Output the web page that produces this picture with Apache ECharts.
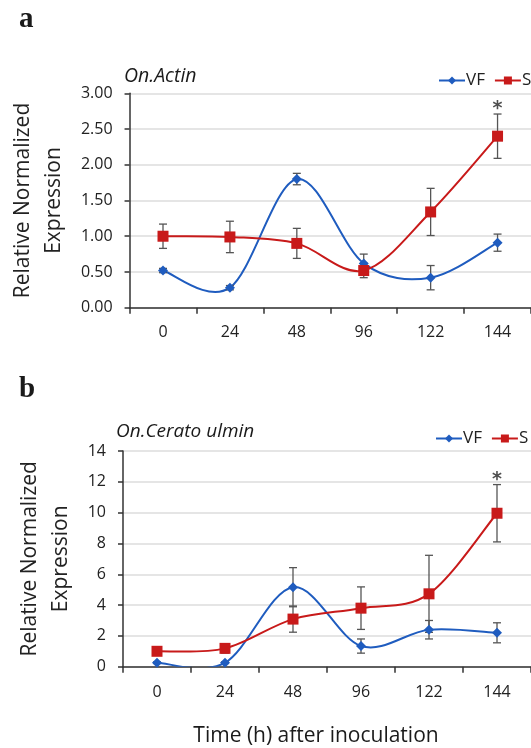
<!DOCTYPE html>
<html>
<head>
<meta charset="utf-8">
<script src="https://cdn.jsdelivr.net/npm/echarts@6/dist/echarts.min.js"></script>
<style>
  html, body { margin: 0; padding: 0; background: #fff; }
  #chart { width: 531px; height: 748px; }
</style>
</head>
<body>
<div id="chart"></div>
<script>
// time points (h)
const hours = ["0", "24", "48", "96", "122", "144"];

// panel a - On.Actin
const actinVF = [0.52, 0.28, 1.80, 0.62, 0.42, 0.91];
const actinVFErr = [0.03, 0.03, 0.08, 0.13, 0.17, 0.12];
const actinS = [1.00, 0.99, 0.90, 0.52, 1.34, 2.40];
const actinSErr = [0.17, 0.22, 0.21, 0.10, 0.33, 0.31];

// panel b - On.Cerato ulmin
const ceratoVF = [0.26, 0.26, 5.16, 1.34, 2.40, 2.20];
const ceratoVFErr = [0.05, 0.05, 1.27, 0.46, 0.60, 0.65];
const ceratoS = [1.00, 1.19, 3.09, 3.80, 4.73, 9.96];
const ceratoSErr = [0.1, 0.3, 0.85, 1.38, 2.5, 1.86];

// significance mark (index of time point)
const starIdx = 5;

const blue = "#1f5cbf";
const red = "#c81a1a";
const font = "Open Sans";

var myChart = echarts.init(document.getElementById("chart"));

// [index, low, high] for error bars
function errData(vals, errs) {
    return vals.map((v, i) => [i, v - errs[i], v + errs[i]]);
}

function renderErr(params, api) {
    var x = api.value(0);
    var lo = api.coord([x, api.value(1)]);
    var hi = api.coord([x, api.value(2)]);
    var w = 4;
    var st = { stroke: "#555", lineWidth: 1.3 };
    return {
        type: "group",
        children: [
            { type: "line", shape: { x1: hi[0], y1: hi[1], x2: lo[0], y2: lo[1] }, style: st },
            { type: "line", shape: { x1: hi[0] - w, y1: hi[1], x2: hi[0] + w, y2: hi[1] }, style: st },
            { type: "line", shape: { x1: lo[0] - w, y1: lo[1], x2: lo[0] + w, y2: lo[1] }, style: st }
        ]
    };
}

// excel-like smoothed line: one bezier segment per point (catmull-rom style)
function curveRender(vals, color) {
    var n = vals.length;
    return function (params, api) {
        var i = params.dataIndex;
        if (i >= n - 1) return null;
        var pt = function (j) {
            j = Math.max(0, Math.min(n - 1, j));
            return api.coord([j, vals[j]]);
        };
        var p0 = pt(i - 1), p1 = pt(i), p2 = pt(i + 1), p3 = pt(i + 2);
        return {
            type: "bezierCurve",
            shape: {
                x1: p1[0], y1: p1[1], x2: p2[0], y2: p2[1],
                cpx1: p1[0] + (p2[0] - p0[0]) / 6, cpy1: p1[1] + (p2[1] - p0[1]) / 6,
                cpx2: p2[0] - (p3[0] - p1[0]) / 6, cpy2: p2[1] - (p3[1] - p1[1]) / 6
            },
            style: { stroke: color, lineWidth: 2, fill: null }
        };
    };
}

function yAxis(idx, max, interval, digits, gap) {
    return {
        type: "value",
        gridIndex: idx,
        min: 0,
        max: max,
        interval: interval,
        name: "Relative Normalized\nExpression",
        nameLocation: "middle",
        nameRotate: 90,
        nameGap: gap,
        nameTextStyle: { fontFamily: font, fontSize: 21, color: "#222", lineHeight: 31 },
        axisLine: { show: true, lineStyle: { color: "#333", width: 1.5 } },
        axisTick: { show: true, inside: false, length: 5, lineStyle: { color: "#333", width: 1.5 } },
        axisLabel: {
            fontFamily: font, fontSize: 16, color: "#222", margin: 17,
            formatter: v => v.toFixed(digits)
        },
        splitLine: { lineStyle: { color: "#dcdcdc", width: 1.5 } }
    };
}

function xAxis(idx, margin) {
    return {
        type: "category",
        gridIndex: idx,
        data: hours,
        boundaryGap: true,
        axisLine: { lineStyle: { color: "#333", width: 1.5 } },
        axisTick: { show: true, length: 6, lineStyle: { color: "#333", width: 1.5 } },
        axisLabel: { fontFamily: font, fontSize: 16, color: "#222", margin: margin }
    };
}

function markerSeries(name, idx, data, color, symbol, size) {
    return {
        name: name,
        type: "line",
        xAxisIndex: idx,
        yAxisIndex: idx,
        data: data,
        symbol: symbol,
        symbolSize: size,
        lineStyle: { color: color, width: 0, opacity: 0 },
        itemStyle: { color: color },
        z: 5
    };
}

function curveSeries(idx, vals, color) {
    return {
        type: "custom",
        xAxisIndex: idx,
        yAxisIndex: idx,
        data: vals.map((v, i) => [i, v]),
        encode: { x: 0, y: 1 },
        renderItem: curveRender(vals, color),
        clip: true,
        silent: true,
        z: 3
    };
}

function errSeries(idx, vals, errs) {
    return {
        type: "custom",
        xAxisIndex: idx,
        yAxisIndex: idx,
        data: errData(vals, errs),
        renderItem: renderErr,
        encode: { x: 0, y: [1, 2] },
        z: 4,
        silent: true
    };
}

function starSeries(idx, vals, errs) {
    return {
        type: "scatter",
        xAxisIndex: idx,
        yAxisIndex: idx,
        symbolSize: 0,
        data: [[starIdx, vals[starIdx] + errs[starIdx]]],
        label: {
            show: true, position: "top", distance: 0, offset: [0, 5], formatter: "*",
            fontFamily: "DejaVu Sans", fontWeight: "bold", fontSize: 19, color: "#222"
        },
        silent: true
    };
}

function legend(left, top) {
    return {
        left: left,
        top: top,
        width: 200,
        orient: "horizontal",
        padding: 0,
        itemWidth: 26,
        itemHeight: 10,
        itemGap: 9,
        data: ["VF", "S"],
        lineStyle: { width: 2, opacity: 1 },
        textStyle: { fontFamily: font, fontSize: 17, color: "#222", padding: [0, 0, 0, -4] }
    };
}

function text(str, x, y, fontCss, align) {
    return {
        type: "text", x: x, y: y, silent: true,
        style: { text: str, font: fontCss, fill: "#1a1a1a", align: align || "left", verticalAlign: "middle" }
    };
}

var option = {
    animation: false,
    graphic: [
        text("a", 19, 20, 'bold 29px "Liberation Serif"'),
        text("b", 19, 390, 'bold 29px "Liberation Serif"'),
        text("On.Actin", 124, 76, 'italic 19.5px "Open Sans"'),
        text("On.Cerato ulmin", 116, 432, 'italic 19px "Open Sans"'),
        text("Time (h) after inoculation", 316, 736, '21px "Open Sans"', "center")
    ],
    legend: [legend(438, 72), legend(435, 430)],
    grid: [
        { left: 129.3, top: 93.3, width: 406, height: 214.4 },
        { left: 123, top: 451, width: 410, height: 215.7 }
    ],
    xAxis: [xAxis(0, 17), xAxis(1, 18)],
    yAxis: [yAxis(0, 3, 0.5, 2, 59), yAxis(1, 14, 2, 0, 46)],
    series: [
        markerSeries("VF", 0, actinVF, blue, "diamond", 10),
        markerSeries("S", 0, actinS, red, "rect", 11),
        curveSeries(0, actinVF, blue),
        curveSeries(0, actinS, red),
        errSeries(0, actinVF, actinVFErr),
        errSeries(0, actinS, actinSErr),
        starSeries(0, actinS, actinSErr),
        markerSeries("VF", 1, ceratoVF, blue, "diamond", 10),
        markerSeries("S", 1, ceratoS, red, "rect", 11),
        curveSeries(1, ceratoVF, blue),
        curveSeries(1, ceratoS, red),
        errSeries(1, ceratoVF, ceratoVFErr),
        errSeries(1, ceratoS, ceratoSErr),
        starSeries(1, ceratoS, ceratoSErr)
    ]
};

myChart.setOption(option);
</script>
</body>
</html>
